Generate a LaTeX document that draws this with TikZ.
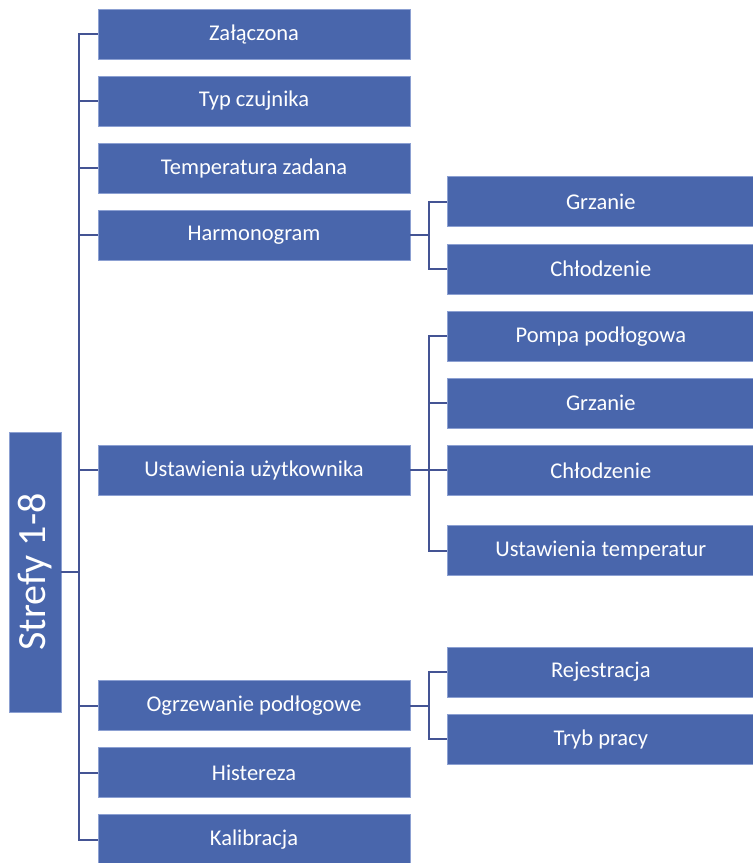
\documentclass[tikz,border=0pt]{standalone}
\usepackage{fontspec}
\setmainfont{Carlito}
\usepackage{xcolor}
\usepackage{tikz}
\usetikzlibrary{positioning}
\definecolor{BoxBlue}{RGB}{73,102,172}
\definecolor{EdgeBlue}{RGB}{140,160,210}
\definecolor{LineBlue}{RGB}{68,84,148}

\begin{document}
\begin{tikzpicture}[
  x=1pt, y=1pt,
  font=\fontsize{22.5}{27}\selectfont,
  node distance=16.3pt and 37pt,
  item/.style={rectangle, draw=EdgeBlue, line width=0.8pt, fill=BoxBlue,
               text=white, minimum width=312pt, minimum height=50pt,
               inner sep=0pt},
  subitem/.style={item, minimum width=306pt},
  link/.style={draw=LineBlue, line width=2pt}
]
\useasboundingbox (0,0) rectangle (753,-863);

% Root
\node[item, rotate=90, minimum width=280pt, minimum height=52pt,
      font=\fontsize{40}{46}\selectfont] (strefy) at (35,-572) {Strefy 1-8};

% Main column
\node[item] (zal) at (254,-34) {Załączona};
\node[item, below=of zal]          (typ)  {Typ czujnika};
\node[item, below=of typ]          (temp) {Temperatura zadana};
\node[item, below=of temp]         (harm) {Harmonogram};
\node[item, below=184.3pt of harm] (uzyt) {Ustawienia użytkownika};
\node[item, below=184.3pt of uzyt] (ogrz) {Ogrzewanie podłogowe};
\node[item, below=of ogrz]         (hist) {Histereza};
\node[item, below=of hist]         (kal)  {Kalibracja};

% Harmonogram
\node[subitem, right=of harm, yshift=33.5pt] (grz1) {Grzanie};
\node[subitem, below=of grz1]                (chl1) {Chłodzenie};

% Ustawienia uzytkownika
\node[subitem, right=of uzyt]        (chl2)  {Chłodzenie};
\node[subitem, above=of chl2]        (grz2)  {Grzanie};
\node[subitem, above=of grz2]        (pompa) {Pompa podłogowa};
\node[subitem, below=29.5pt of chl2] (ustt)  {Ustawienia temperatur};

% Ogrzewanie podlogowe
\node[subitem, right=of ogrz, yshift=33.5pt] (rej)  {Rejestracja};
\node[subitem, below=of rej]                 (tryb) {Tryb pracy};

% Connectors
\coordinate (trunk)  at (79,0);
\coordinate (branch) at (429,0);
\draw[link] (strefy.south) -- (strefy.south -| trunk);
\draw[link] (zal.west) -- (zal.west -| trunk) -- (kal.west -| trunk) -- (kal.west);
\foreach \n in {typ,temp,harm,uzyt,ogrz,hist}
  \draw[link] (\n.west) -- (\n.west -| trunk);

\draw[link] (harm.east) -- (harm.east -| branch);
\draw[link] (grz1.west) -- (grz1.west -| branch) -- (chl1.west -| branch) -- (chl1.west);

\draw[link] (uzyt.east) -- (uzyt.east -| branch);
\draw[link] (pompa.west) -- (pompa.west -| branch) -- (ustt.west -| branch) -- (ustt.west);
\draw[link] (grz2.west) -- (grz2.west -| branch);
\draw[link] (chl2.west) -- (chl2.west -| branch);

\draw[link] (ogrz.east) -- (ogrz.east -| branch);
\draw[link] (rej.west) -- (rej.west -| branch) -- (tryb.west -| branch) -- (tryb.west);

\end{tikzpicture}
\end{document}
